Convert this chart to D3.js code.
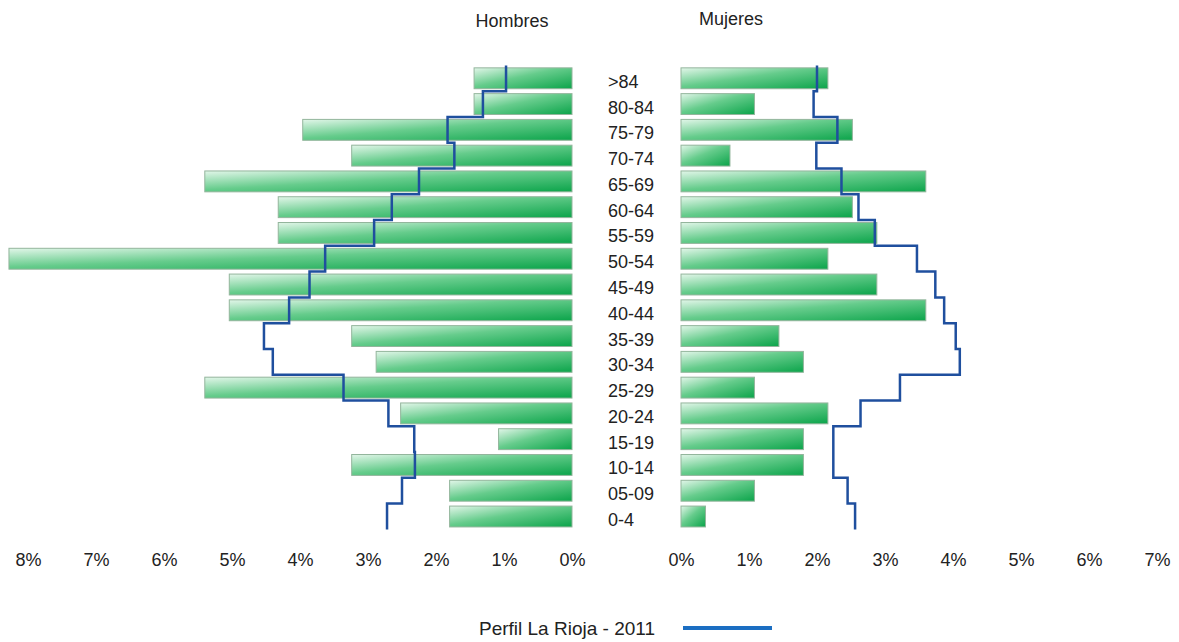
<html>
<head>
    <meta charset="utf-8">
    <title>Pirámide de población</title>
    <style>
        body { margin: 0; background: #fff; }
        text { font-family: "Liberation Sans", Arial, sans-serif; fill: #222; }
    </style>
</head>
<body>
<script src="https://cdn.jsdelivr.net/npm/d3@7/dist/d3.min.js"></script>
<script>
    var width = 1179;
    var height = 642;

    // grupos de edad (de arriba a abajo)
    var ages = [">84", "80-84", "75-79", "70-74", "65-69", "60-64", "55-59", "50-54", "45-49",
                "40-44", "35-39", "30-34", "25-29", "20-24", "15-19", "10-14", "05-09", "0-4"];
    // porcentaje hombres / mujeres (barras)
    var hombres = [1.44, 1.44, 3.96, 3.24, 5.40, 4.32, 4.32, 8.28, 5.04,
                   5.04, 3.24, 2.88, 5.40, 2.52, 1.08, 3.24, 1.80, 1.80];
    var mujeres = [2.16, 1.08, 2.52, 0.72, 3.60, 2.52, 2.88, 2.16, 2.88,
                   3.60, 1.44, 1.80, 1.08, 2.16, 1.80, 1.80, 1.08, 0.36];
    // perfil La Rioja 2011 (línea escalonada)
    var perfilH = [0.97, 1.31, 1.83, 1.73, 2.25, 2.65, 2.91, 3.63, 3.86,
                   4.16, 4.53, 4.40, 3.36, 2.70, 2.32, 2.31, 2.50, 2.72];
    var perfilM = [2.00, 1.95, 2.30, 1.99, 2.36, 2.61, 2.85, 3.47, 3.74,
                   3.87, 4.04, 4.10, 3.22, 2.64, 2.24, 2.24, 2.45, 2.56];
    var ticksH = [0, 1, 2, 3, 4, 5, 6, 7, 8];
    var ticksM = [0, 1, 2, 3, 4, 5, 6, 7];

    var svg = d3.select('body')
            .append('svg')
            .attr('width', width)
            .attr('height', height);

    // degradado de las barras
    var grad = svg.append("defs").append("linearGradient")
            .attr("id", "verde")
            .attr("x1", 0).attr("y1", 0).attr("x2", 1).attr("y2", 1);
    grad.append("stop").attr("offset", "0%").attr("stop-color", "#e2f6e9");
    grad.append("stop").attr("offset", "45%").attr("stop-color", "#66cc8c");
    grad.append("stop").attr("offset", "100%").attr("stop-color", "#0ba44a");

    // escalas
    var xLeft = d3.scaleLinear().domain([0, 8]).range([572, 28]);
    var xRight = d3.scaleLinear().domain([0, 7]).range([681, 1157]);
    var y = d3.scaleBand()
            .domain(ages)
            .range([65.4, 529.4])
            .paddingInner(0.19)
            .paddingOuter(0.095);
    var step = y.step();

    // barras hombres
    svg.selectAll(".barH")
            .data(hombres)
            .enter()
            .append("rect")
            .attr("class", "barH")
            .attr("x", function (d) { return xLeft(d); })
            .attr("y", function (d, i) { return y(ages[i]); })
            .attr("width", function (d) { return xLeft(0) - xLeft(d); })
            .attr("height", y.bandwidth())
            .attr("fill", "url(#verde)")
            .attr("stroke", "#93b59c")
            .attr("stroke-width", 1);

    // barras mujeres
    svg.selectAll(".barM")
            .data(mujeres)
            .enter()
            .append("rect")
            .attr("class", "barM")
            .attr("x", xRight(0))
            .attr("y", function (d, i) { return y(ages[i]); })
            .attr("width", function (d) { return xRight(d) - xRight(0); })
            .attr("height", y.bandwidth())
            .attr("fill", "url(#verde)")
            .attr("stroke", "#93b59c")
            .attr("stroke-width", 1);

    // etiquetas de edad
    svg.selectAll(".age")
            .data(ages)
            .enter()
            .append("text")
            .attr("class", "age")
            .attr("x", 608)
            .attr("y", function (d) { return y(d) + y.bandwidth() / 2 + 9.5; })
            .attr("font-size", 18)
            .text(function (d) { return d; });

    // línea escalonada del perfil
    function stepPoints(vals, xs) {
        var pts = [];
        vals.forEach(function (v, i) {
            var top = y(ages[i]) + y.bandwidth() / 2 - step / 2;
            pts.push([xs(v), top]);
            pts.push([xs(v), top + step]);
        });
        return pts;
    }
    var line = d3.line();
    svg.append("path")
            .attr("d", line(stepPoints(perfilH, xLeft)))
            .attr("fill", "none")
            .attr("stroke", "#1f4f9e")
            .attr("stroke-width", 2.5);
    svg.append("path")
            .attr("d", line(stepPoints(perfilM, xRight)))
            .attr("fill", "none")
            .attr("stroke", "#1f4f9e")
            .attr("stroke-width", 2.5);

    // ejes
    var axisH = d3.axisBottom(xLeft).tickValues(ticksH).tickSize(0)
            .tickFormat(function (d) { return d + "%"; });
    var axisM = d3.axisBottom(xRight).tickValues(ticksM).tickSize(0)
            .tickFormat(function (d) { return d + "%"; });
    [axisH, axisM].forEach(function (ax) {
        var g = svg.append("g")
                .attr("transform", "translate(0,550)")
                .call(ax);
        g.select(".domain").remove();
        g.selectAll("text")
                .attr("font-size", 18)
                .attr("font-family", "'Liberation Sans', Arial, sans-serif")
                .attr("fill", "#222");
    });

    // títulos
    svg.append("text").attr("x", 512).attr("y", 27).attr("text-anchor", "middle")
            .attr("font-size", 18).text("Hombres");
    svg.append("text").attr("x", 731).attr("y", 25).attr("text-anchor", "middle")
            .attr("font-size", 18).text("Mujeres");

    // leyenda
    svg.append("text").attr("x", 655).attr("y", 635).attr("text-anchor", "end")
            .attr("font-size", 19).text("Perfil La Rioja - 2011");
    svg.append("line")
            .attr("x1", 683).attr("x2", 772).attr("y1", 628).attr("y2", 628)
            .attr("stroke", "#1b6ec2").attr("stroke-width", 4);
</script>
</body>
</html>
